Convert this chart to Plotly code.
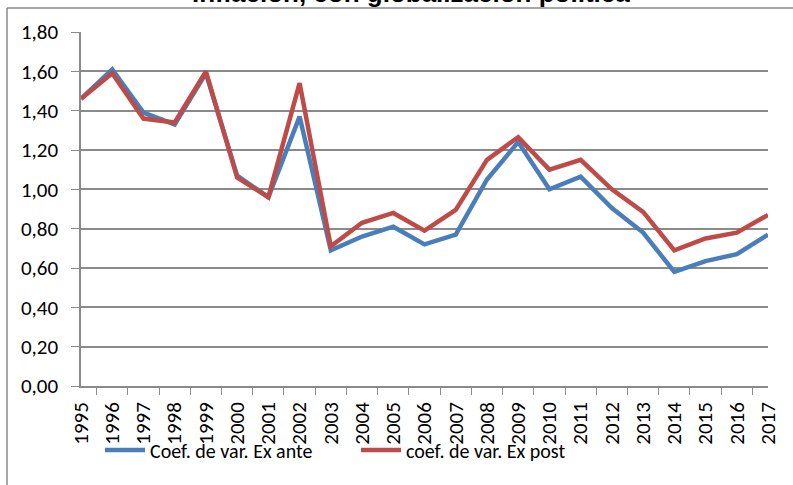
import plotly.graph_objects as go

years = [str(y) for y in range(1995, 2018)]
ex_ante = [1.46, 1.61, 1.39, 1.33, 1.59, 1.07, 0.96, 1.37, 0.69, 0.76, 0.81, 0.72, 0.77,
           1.05, 1.24, 1.00, 1.065, 0.905, 0.78, 0.58, 0.635, 0.67, 0.77]
ex_post = [1.46, 1.59, 1.36, 1.34, 1.60, 1.06, 0.96, 1.54, 0.71, 0.83, 0.88, 0.79, 0.895,
           1.15, 1.265, 1.10, 1.15, 1.00, 0.885, 0.69, 0.75, 0.78, 0.87]
y_ticks = [0, 0.2, 0.4, 0.6, 0.8, 1.0, 1.2, 1.4, 1.6, 1.8]
title_text = "inflación, con globalización política"

FONT = "Carlito, Lato, 'Liberation Sans', sans-serif"

fig = go.Figure()
fig.add_trace(go.Scatter(x=years, y=ex_ante, mode="lines", name="Coef. de var. Ex ante",
                         line=dict(color="#4a7ebb", width=4.5)))
fig.add_trace(go.Scatter(x=years, y=ex_post, mode="lines", name="coef. de var. Ex post",
                         line=dict(color="#be4b48", width=4.5)))

L, R, T, B = 81, 25, 32, 99
W, H = 793, 485
pw, ph = W - L - R, H - T - B

fig.update_layout(
    width=W, height=H,
    margin=dict(l=L, r=R, t=T, b=B, autoexpand=False),
    paper_bgcolor="white", plot_bgcolor="white",
    separators=", ",
    font=dict(family=FONT, size=20, color="black"),
    showlegend=True,
    legend=dict(orientation="h", x=(100 - L) / pw, y=(T + ph - 450) / ph,
                xanchor="left", yanchor="middle", font=dict(family=FONT, size=20),
                bgcolor="rgba(0,0,0,0)", entrywidth=201, entrywidthmode="pixels",
                itemwidth=40, tracegroupgap=0),
    xaxis=dict(type="category", tickangle=-90, tickson="boundaries", ticks="outside",
               ticklen=7, tickcolor="#8a8a8a", showline=True, linecolor="#8a8a8a",
               linewidth=1.5, showgrid=False, tickfont=dict(family=FONT, size=21),
               ticklabelstandoff=6, fixedrange=True),
    yaxis=dict(range=[0, 1.8], tickvals=y_ticks, tickformat=".2f", ticks="outside",
               ticklen=8, tickcolor="#8a8a8a", showline=True, linecolor="#8a8a8a",
               linewidth=1.5, showgrid=True, gridcolor="#8a8a8a", gridwidth=1.5,
               zeroline=False, tickfont=dict(family=FONT, size=21), ticklabelstandoff=9,
               fixedrange=True),
    annotations=[dict(text="<b>" + title_text + "</b>", xref="paper", yref="paper",
                      x=(411 - L) / pw, y=1 + (T + 7) / ph, xanchor="center", yanchor="middle",
                      showarrow=False, font=dict(family="'Liberation Sans', Arial, sans-serif",
                                                 size=26, color="black"))],
    shapes=[
        dict(type="line", xref="paper", yref="paper", x0=(7 - L) / pw, x1=(W + 5 - L) / pw,
             y0=1 + (T - 8) / ph, y1=1 + (T - 8) / ph, line=dict(color="#8a8a8a", width=1.5)),
        dict(type="line", xref="paper", yref="paper", x0=(7 - L) / pw, x1=(7 - L) / pw,
             y0=1 + (T - 8) / ph, y1=-(B + 5) / ph, line=dict(color="#8a8a8a", width=1.5)),
    ],
)

fig.write_html("out.html", config={"displayModeBar": False},
               post_script="document.body.style.margin='0';")
